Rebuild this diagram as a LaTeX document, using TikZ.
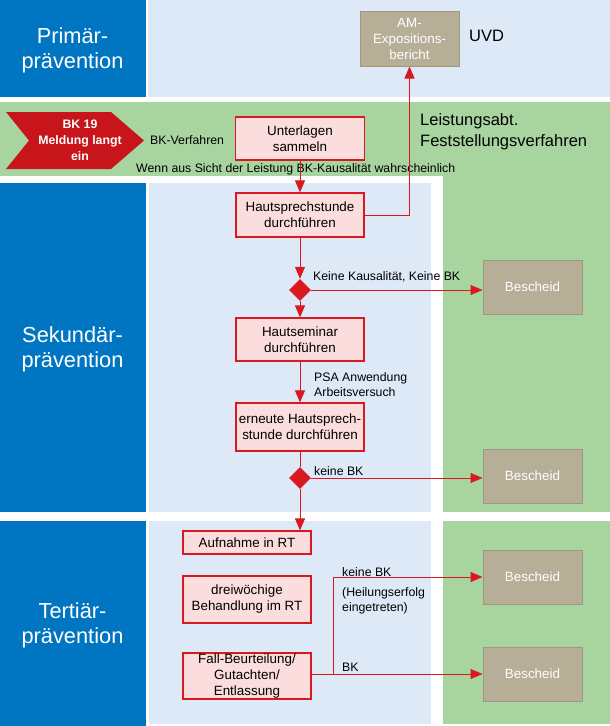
\documentclass[tikz,border=0pt]{standalone}
\usepackage{fontspec}
\setmainfont{Liberation Sans}
\usetikzlibrary{arrows.meta,shapes.geometric}
\definecolor{bkblue}{RGB}{0,117,194}
\definecolor{bklight}{RGB}{221,233,247}
\definecolor{bkgreen}{RGB}{168,212,160}
\definecolor{bkred}{RGB}{218,24,32}
\definecolor{bkdark}{RGB}{200,21,27}
\definecolor{bkpink}{RGB}{251,221,221}
\definecolor{bktan}{RGB}{182,174,151}
\definecolor{bktanline}{RGB}{160,151,128}

\begin{document}
\begin{tikzpicture}[x=1pt, y=-1pt,
    box/.style={draw=bkred, fill=bkpink, line width=1.2pt, align=center, inner sep=0pt, font=\fontsize{13.4}{16}\selectfont},
    decide/.style={diamond, fill=bkred, minimum width=22pt, minimum height=22pt, inner sep=0pt},
    bescheid/.style={draw=bktanline, fill=bktan, line width=1pt, text=white, align=center, minimum width=99pt, minimum height=54pt, inner sep=0pt, font=\fontsize{13.4}{16}\selectfont},
    txt/.style={inner sep=0pt, anchor=base west, align=left, font=\fontsize{12.3}{15}\selectfont},
    big/.style={inner sep=0pt, anchor=base west, align=left, font=\fontsize{16.5}{20.5}\selectfont},
    head/.style={inner sep=0pt, text=white, align=center, font=\fontsize{21.8}{25}\selectfont},
    link/.style={draw=bkred, line width=1pt},
    arr/.style={link, -{Triangle[length=12pt,width=10pt]}}]
    \useasboundingbox (0,0) rectangle (610,726);

    \fill[bkblue] (0,0) rectangle (146,97);
    \fill[bklight] (148,0) rectangle (610,97);
    \fill[bkgreen] (0,102) rectangle (610,176);
    \fill[bkgreen] (443,176) rectangle (610,512);
    \fill[bkblue] (0,183) rectangle (146,512);
    \fill[bklight] (149,183) rectangle (431,512);
    \fill[bkblue] (0,521) rectangle (146,726);
    \fill[bklight] (149,521) rectangle (431,724);
    \fill[bkgreen] (443,521) rectangle (610,724);

    \node (prim) at (72.5,50) [head] {Primär-\\prävention};
    \node (sek) at (72.5,349.5) [head] {Sekundär-\\prävention};
    \node (tert) at (72.5,625) [head] {Tertiär-\\prävention};

    \node (am) at (409.5,38.5) [bescheid, minimum height=55pt] {AM-\\Expositions-\\bericht};
    \node (uvd) at (469,41) [big] {UVD};
    \node (leist) at (420,146) [big] {Leistungsabt.\\Feststellungsverfahren};

    \fill[bkdark] (6,112) -- (111,112) -- (144,140.5) -- (111,169) -- (6,169) -- (29,140.5) -- cycle;
    \node (bk) at (80,140.5) [inner sep=0pt, text=white, align=center, font=\bfseries\fontsize{12.3}{16}\selectfont] {BK 19\\Meldung langt\\ein};
    \node (verf) at (150,144) [txt] {BK-Verfahren};

    \node (unt) at (300,138.5) [box, minimum width=129pt, minimum height=43pt] {Unterlagen\\sammeln};
    \node (wenn) at (136,172.5) [txt] {Wenn aus Sicht der Leistung BK-Kausalität wahrscheinlich};

    \node (haut) at (300,215) [box, minimum width=128pt, minimum height=44pt] {Hautsprechstunde\\durchführen};
    \draw[arr] (unt) -- (haut);
    \draw[arr] (haut.east) -| (am);

    \node (d1) at (300,290) [decide] {};
    \draw[arr] (haut) -- (d1);

    \node (bes1) at (532.5,287) [bescheid] {Bescheid};
    \draw[arr] (d1) -- (d1 -| bes1.west);
    \node (k1) at (313,280) [txt] {Keine Kausalität, Keine BK};

    \node (sem) at (300,339.5) [box, minimum width=128pt, minimum height=43pt] {Hautseminar\\durchführen};
    \draw[arr] (d1) -- (sem);

    \node (ern) at (300,427) [box, minimum width=128pt, minimum height=48pt] {erneute Hautsprech-\\stunde durchführen};
    \draw[arr] (sem) -- (ern);
    \node (psa) at (314,396) [txt] {PSA Anwendung\\Arbeitsversuch};

    \node (d2) at (300,478) [decide] {};
    \draw[link] (ern) -- (d2);

    \node (bes2) at (532.5,476) [bescheid] {Bescheid};
    \draw[arr] (d2) -- (d2 -| bes2.west);
    \node (k2) at (314,475) [txt] {keine BK};

    \node (aufn) at (247,542.5) [box, minimum width=128pt, minimum height=23pt] {Aufnahme in RT};
    \draw[arr] (d2) -- (d2 |- aufn.north);

    \node (drei) at (247,599.5) [box, minimum width=128pt, minimum height=47pt] {dreiwöchige\\Behandlung im RT};

    \node (fall) at (247,676) [box, minimum width=128pt, minimum height=46pt] {Fall-Beurteilung/\\Gutachten/\\Entlassung};

    \node (bes3) at (532.5,577) [bescheid] {Bescheid};
    \node (bes4) at (532.5,674) [bescheid] {Bescheid};
    \coordinate (br) at (333,674);
    \draw[arr] (fall.east |- bes4) -- (bes4);
    \draw[arr] (br) |- (bes3);

    \node (k3) at (342,576) [txt] {keine BK};
    \node (heil) at (342,611) [txt] {(Heilungserfolg\\eingetreten)};
    \node (k4) at (342,671) [txt] {BK};
\end{tikzpicture}
\end{document}
